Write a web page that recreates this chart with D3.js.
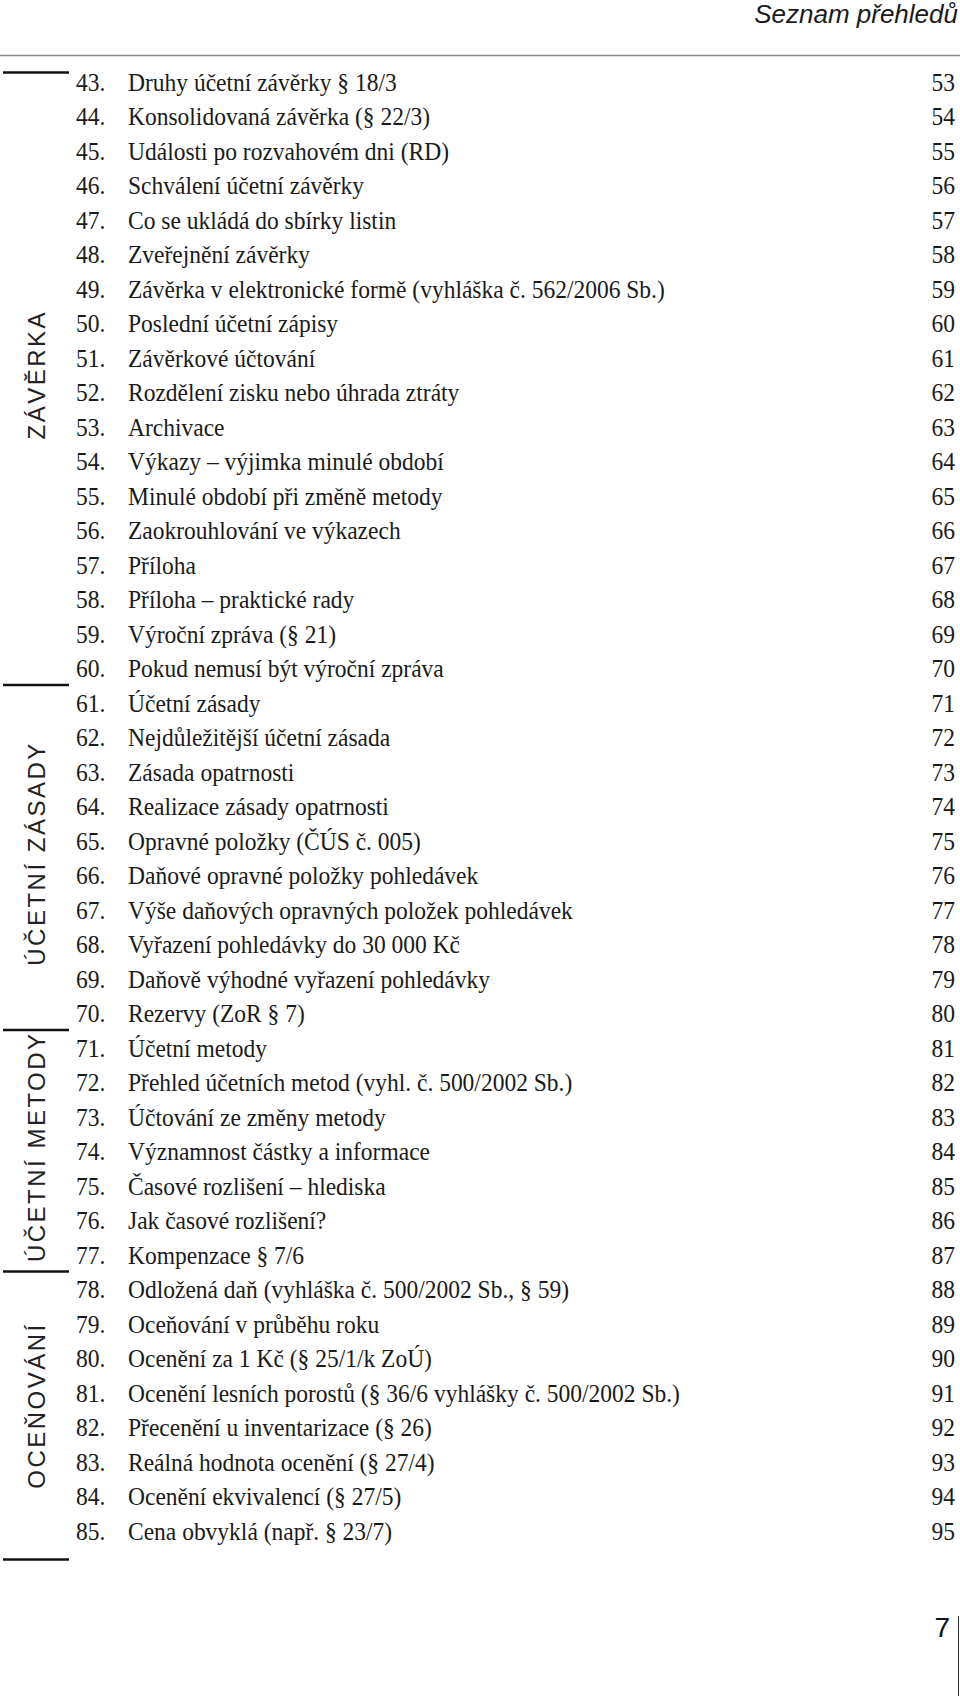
<!DOCTYPE html>
<html>
<head>
<meta charset="utf-8">
<script src="https://cdn.jsdelivr.net/npm/d3@7"></script>
<style>
  body { margin: 0; background: #fff; }
  svg { display: block; }
</style>
</head>
<body>
<svg></svg>
<script>
const width = 960;
const height = 1696;

const headerTitle = "Seznam přehledů";
const pageNumber = "7";

const itemNos = d3.range(43, 86);
const itemTitles = [
  "Druhy účetní závěrky § 18/3",
  "Konsolidovaná závěrka (§ 22/3)",
  "Události po rozvahovém dni (RD)",
  "Schválení účetní závěrky",
  "Co se ukládá do sbírky listin",
  "Zveřejnění závěrky",
  "Závěrka v elektronické formě (vyhláška č. 562/2006 Sb.)",
  "Poslední účetní zápisy",
  "Závěrkové účtování",
  "Rozdělení zisku nebo úhrada ztráty",
  "Archivace",
  "Výkazy – výjimka minulé období",
  "Minulé období při změně metody",
  "Zaokrouhlování ve výkazech",
  "Příloha",
  "Příloha – praktické rady",
  "Výroční zpráva (§ 21)",
  "Pokud nemusí být výroční zpráva",
  "Účetní zásady",
  "Nejdůležitější účetní zásada",
  "Zásada opatrnosti",
  "Realizace zásady opatrnosti",
  "Opravné položky (ČÚS č. 005)",
  "Daňové opravné položky pohledávek",
  "Výše daňových opravných položek pohledávek",
  "Vyřazení pohledávky do 30 000 Kč",
  "Daňově výhodné vyřazení pohledávky",
  "Rezervy (ZoR § 7)",
  "Účetní metody",
  "Přehled účetních metod (vyhl. č. 500/2002 Sb.)",
  "Účtování ze změny metody",
  "Významnost částky a informace",
  "Časové rozlišení – hlediska",
  "Jak časové rozlišení?",
  "Kompenzace § 7/6",
  "Odložená daň (vyhláška č. 500/2002 Sb., § 59)",
  "Oceňování v průběhu roku",
  "Ocenění za 1 Kč (§ 25/1/k ZoÚ)",
  "Ocenění lesních porostů (§ 36/6 vyhlášky č. 500/2002 Sb.)",
  "Přecenění u inventarizace (§ 26)",
  "Reálná hodnota ocenění (§ 27/4)",
  "Ocenění ekvivalencí (§ 27/5)",
  "Cena obvyklá (např. § 23/7)"
];
const itemPages = d3.range(53, 96);

const sectionNames = ["ZÁVĚRKA", "ÚČETNÍ ZÁSADY", "ÚČETNÍ METODY", "OCEŇOVÁNÍ"];
const sectionFirst = [43, 61, 71, 78];
const sectionLast = [60, 70, 77, 85];

const svg = d3.select("svg").attr("width", width).attr("height", height);

// row baselines
const yScale = d3.scaleLinear().domain([43, 85]).range([90.5, 1539.5]);

const rows = itemNos.map((n, i) => ({ no: n, title: itemTitles[i], page: itemPages[i] }));

// header
svg.append("text")
  .attr("x", 958)
  .attr("y", 23)
  .attr("text-anchor", "end")
  .style("font-family", "'Liberation Sans', Arial, sans-serif")
  .style("font-style", "italic")
  .style("font-size", "26px")
  .style("fill", "#1a1a1a")
  .text(headerTitle);

svg.append("line")
  .attr("x1", 0).attr("x2", width)
  .attr("y1", 55.5).attr("y2", 55.5)
  .style("stroke", "#8a8a8a")
  .style("stroke-width", 1.5);

// list rows (the book face is a slightly narrow Times)
const squeeze = 0.94;
const rowG = svg.append("g")
  .style("font-family", "'Liberation Serif', 'Times New Roman', serif")
  .style("font-size", "25px")
  .style("fill", "#1a1a1a");

const row = rowG.selectAll("g.row")
  .data(rows)
  .enter()
  .append("g")
  .attr("class", "row")
  .attr("transform", (d) => "translate(0," + yScale(d.no) + ")");

row.append("text")
  .attr("transform", "translate(76,0) scale(" + squeeze + ",1)")
  .text((d) => d.no + ".");
row.append("text")
  .attr("transform", "translate(128,0) scale(" + squeeze + ",1)")
  .text((d) => d.title);
row.append("text")
  .attr("transform", "translate(955,0) scale(" + squeeze + ",1)")
  .attr("text-anchor", "end")
  .text((d) => d.page);

// section rules and side labels
const sections = sectionNames.map((name, i) => ({
  name: name,
  top: i === 0 ? yScale(sectionFirst[i]) - 18 : yScale(sectionLast[i - 1]) + 8,
  bottom: i === sectionNames.length - 1 ? yScale(sectionLast[i]) + 20 : yScale(sectionLast[i]) + 8,
  lastBase: yScale(sectionLast[i])
}));

const ruleYs = [sections[0].top].concat(sections.map((s) => s.bottom));

svg.selectAll("line.rule")
  .data(ruleYs)
  .enter()
  .append("line")
  .attr("class", "rule")
  .attr("x1", 3).attr("x2", 69)
  .attr("y1", (d) => d).attr("y2", (d) => d)
  .style("stroke", "#111")
  .style("stroke-width", 2.5);

svg.selectAll("text.section")
  .data(sections)
  .enter()
  .append("text")
  .attr("class", "section")
  .attr("transform", (d) => "translate(45," + (d.top + d.lastBase) / 2 + ") rotate(-90)")
  .attr("text-anchor", "middle")
  .style("font-family", "'Liberation Sans', Arial, sans-serif")
  .style("font-size", "24px")
  .style("letter-spacing", "2.5px")
  .style("fill", "#222")
  .text((d) => d.name);

// page number
svg.append("text")
  .attr("x", 950)
  .attr("y", 1637)
  .attr("text-anchor", "end")
  .style("font-family", "'Liberation Sans', Arial, sans-serif")
  .style("font-size", "28px")
  .style("fill", "#111")
  .text(pageNumber);

svg.append("line")
  .attr("x1", 958.5).attr("x2", 958.5)
  .attr("y1", 1616).attr("y2", height)
  .style("stroke", "#333")
  .style("stroke-width", 1);
</script>
</body>
</html>
